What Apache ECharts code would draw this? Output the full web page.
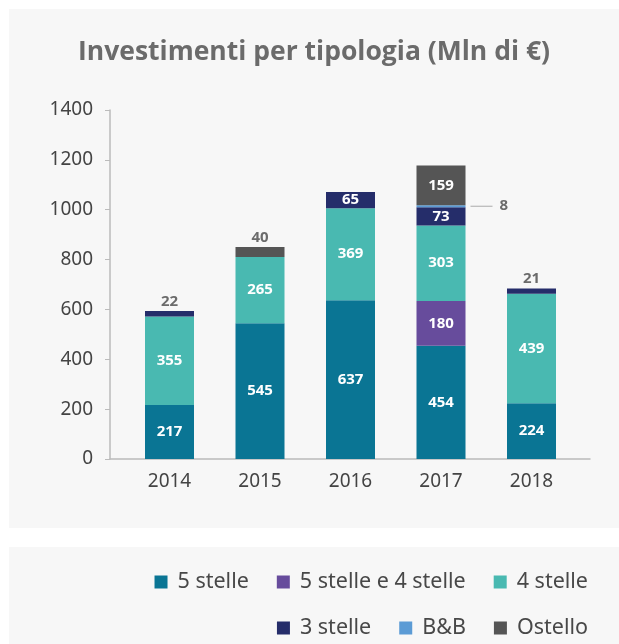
<!DOCTYPE html>
<html>
<head>
<meta charset="utf-8">
<script src="https://cdn.jsdelivr.net/npm/echarts@6/dist/echarts.min.js"></script>
<style>
  html, body { margin: 0; padding: 0; background: #fff; }
  .panel { position: absolute; background: #f7f7f7; }
  #chart { position: absolute; left: 0; top: 0; width: 619px; height: 644px; }
</style>
</head>
<body>
<div class="panel" style="left:9px;top:9px;width:610px;height:519px;"></div>
<div class="panel" style="left:9px;top:547px;width:610px;height:97px;"></div>
<div id="chart"></div>
<script>
// dati
var anni = ['2014', '2015', '2016', '2017', '2018'];
var cinqueStelle = [217, 545, 637, 454, 224];
var cinqueQuattroStelle = ['-', '-', '-', 180, '-'];
var quattroStelle = [355, 265, 369, 303, 439];
var treStelle = [22, '-', 65, 73, 21];
var bnb = ['-', '-', '-', 8, '-'];
var ostello = ['-', 40, '-', 159, '-'];
var yTicks = [0, 200, 400, 600, 800, 1000, 1200, 1400];

var labelFont = 'Noto Sans';

// etichetta dentro la barra, o sopra se la barra e' troppo bassa
function barData(values) {
    return values.map(function (v) {
        if (v === '-') return v;
        if (v < 50) {
            return {
                value: v,
                label: { position: 'top', distance: 2, color: '#6b6b6b' }
            };
        }
        return v;
    });
}

function barSeries(name, values, color) {
    return {
        name: name,
        type: 'bar',
        stack: 'tot',
        xAxisIndex: 1,
        yAxisIndex: 1,
        barWidth: 49,
        itemStyle: { color: color },
        label: {
            show: true,
            position: 'inside',
            color: '#fff',
            fontFamily: labelFont,
            fontWeight: 'bold',
            fontSize: 15
        },
        data: barData(values)
    };
}

var bnbSerie = barSeries('B&B', bnb, '#5b9bd5');
bnbSerie.data = bnb;
bnbSerie.label = {
    show: true,
    position: 'right',
    distance: 5,
    formatter: '{l|}{v|{c}}',
    rich: {
        l: { width: 22, height: 1, backgroundColor: '#aaaaaa' },
        v: { padding: [0, 0, 0, 7], color: '#6b6b6b', fontFamily: labelFont, fontWeight: 'bold', fontSize: 15 }
    }
};

var legendText = { fontFamily: labelFont, fontSize: 21.5, color: '#484848', padding: [0, 0, 0, 5] };

var option = {
    animation: false,
    title: {
        text: 'Investimenti per tipologia (Mln di €)',
        left: 78,
        top: 39,
        padding: 0,
        textStyle: { fontFamily: 'Open Sans', fontWeight: 'bold', fontSize: 26.5, color: '#6b6b6b' }
    },
    legend: [
        {
            data: ['5 stelle', '5 stelle e 4 stelle', '4 stelle'],
            right: 26, top: 566,
            icon: 'rect', itemWidth: 13, itemHeight: 13, itemGap: 28,
            textStyle: legendText
        },
        {
            data: ['3 stelle', 'B&B', 'Ostello'],
            right: 26, top: 612,
            icon: 'rect', itemWidth: 13, itemHeight: 13, itemGap: 28,
            textStyle: legendText
        }
    ],
    grid: [
        { left: 110, right: 29, top: 110, bottom: 185 },
        { left: 124.25, width: 452.5, top: 110, bottom: 185 }
    ],
    xAxis: [
        {
            gridIndex: 0,
            type: 'category',
            data: [''],
            axisLine: { lineStyle: { color: '#bbbbbb', width: 1.5 } },
            axisTick: { show: false },
            axisLabel: { show: false }
        },
        {
            gridIndex: 1,
            type: 'category',
            data: anni,
            axisLine: { show: false },
            axisTick: { show: false },
            axisLabel: { margin: 13, fontFamily: labelFont, fontSize: 19, color: '#444' }
        }
    ],
    yAxis: [
        {
            gridIndex: 0,
            type: 'value',
            min: yTicks[0],
            max: yTicks[yTicks.length - 1],
            interval: yTicks[1] - yTicks[0],
            axisLine: { show: true, lineStyle: { color: '#bbbbbb', width: 1.5 } },
            axisTick: { show: true, length: 5, lineStyle: { color: '#bbbbbb' } },
            splitLine: { show: false },
            axisLabel: {
                margin: 17, fontFamily: labelFont, fontSize: 19, color: '#444',
                formatter: function (v) { return String(v); }
            }
        },
        {
            gridIndex: 1,
            type: 'value',
            min: yTicks[0],
            max: yTicks[yTicks.length - 1],
            show: false
        }
    ],
    series: [
        barSeries('5 stelle', cinqueStelle, '#0a7594'),
        barSeries('5 stelle e 4 stelle', cinqueQuattroStelle, '#674c9c'),
        barSeries('4 stelle', quattroStelle, '#49b9b1'),
        barSeries('3 stelle', treStelle, '#252d6a'),
        bnbSerie,
        barSeries('Ostello', ostello, '#555555')
    ]
};

var chart = echarts.init(document.getElementById('chart'));
chart.setOption(option);
</script>
</body>
</html>
